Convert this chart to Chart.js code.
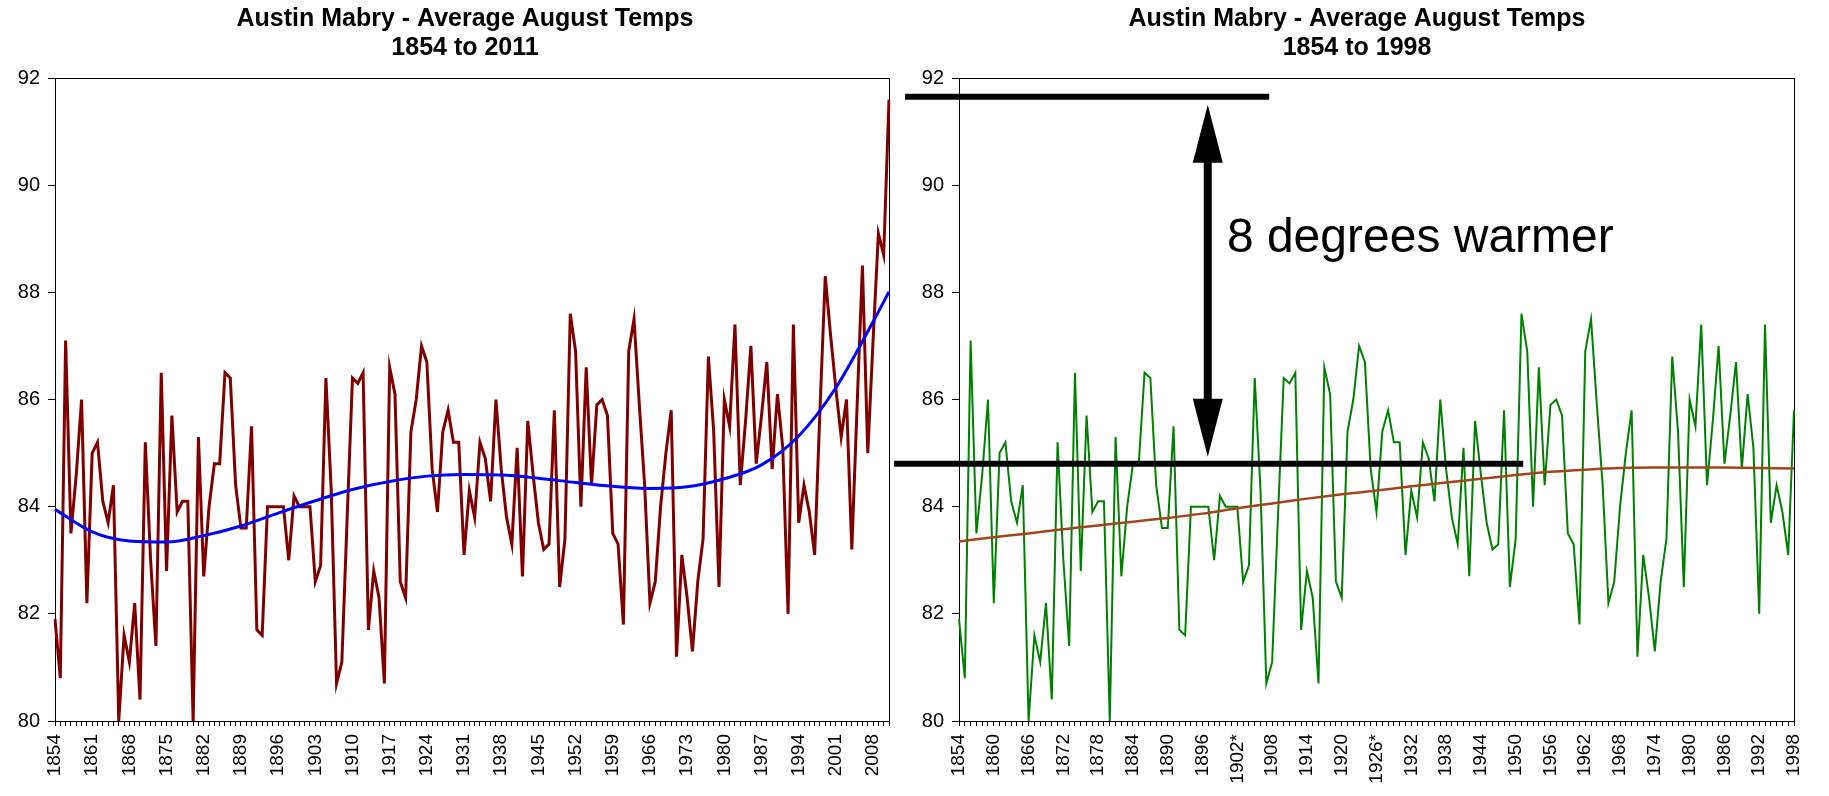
<!DOCTYPE html>
<html lang="en">
<head>
  <meta charset="UTF-8" />
  <title>Austin Mabry - Average August Temps</title>
  <script src="https://cdn.jsdelivr.net/npm/chart.js"></script>
  <style>
    html, body { margin: 0; padding: 0; background: #fff; }
    body { width: 1829px; height: 796px; position: relative; overflow: hidden; }
    canvas { position: absolute; top: 0; }
    #leftChart { left: 0; }
    #rightChart { left: 885px; }
  </style>
</head>
<body>

  <canvas id="leftChart" width="930" height="796"></canvas>
  <canvas id="rightChart" width="944" height="796"></canvas>

  <script>
    // categories
    const years = Array.from({ length: 158 }, (_, i) => String(1854 + i));

    // average August temperature, 1854 - 2011
    const augustTemps = [
      81.9, 80.8, 87.1, 83.5, 84.6, 86.0, 82.2, 85.0, 85.2, 84.1,   // 1854-1863
      83.7, 84.4, 80.0, 81.6, 81.1, 82.2, 80.4, 85.2, 83.0, 81.4,   // 1864-1873
      86.5, 82.8, 85.7, 83.9, 84.1, 84.1, 80.0, 85.3, 82.7, 84.0,   // 1874-1883
      84.8, 84.8, 86.5, 86.4, 84.4, 83.6, 83.6, 85.5, 81.7, 81.6,   // 1884-1893
      84.0, 84.0, 84.0, 84.0, 83.0, 84.2, 84.0, 84.0, 84.0, 82.6,   // 1894-1903
      82.9, 86.4, 84.3, 80.7, 81.1, 83.8, 86.4, 86.3, 86.5, 81.7,   // 1904-1913
      82.8, 82.3, 80.7, 86.6, 86.1, 82.6, 82.3, 85.4, 86.0, 87.0,   // 1914-1923
      86.7, 84.7, 83.9, 85.4, 85.8, 85.2, 85.2, 83.1, 84.3, 83.8,   // 1924-1933
      85.2, 84.9, 84.1, 86.0, 84.7, 83.8, 83.3, 85.1, 82.7, 85.6,   // 1934-1943
      84.6, 83.7, 83.2, 83.3, 85.8, 82.5, 83.4, 87.6, 86.9, 84.0,   // 1944-1953
      86.6, 84.4, 85.9, 86.0, 85.7, 83.5, 83.3, 81.8, 86.9, 87.5,   // 1954-1963
      85.9, 84.4, 82.2, 82.6, 84.0, 85.0, 85.8, 81.2, 83.1, 82.3,   // 1964-1973
      81.3, 82.6, 83.4, 86.8, 85.4, 82.5, 86.0, 85.5, 87.4, 84.4,   // 1974-1983
      85.6, 87.0, 84.8, 85.7, 86.7, 84.7, 86.1, 85.1, 82.0, 87.4,   // 1984-1993
      83.7, 84.4, 83.9, 83.1, 85.8, 88.3, 87.2, 86.2, 85.3, 86.0,   // 1994-2003
      83.2, 85.9, 88.5, 85.0, 87.1, 89.1, 88.7, 91.6                // 2004-2011
    ];

    // trend curve (left chart), read at the labelled years
    const trendYearsLeft = [1854, 1861, 1868, 1875, 1882, 1889, 1896, 1903, 1910, 1917, 1924, 1931,
                            1938, 1945, 1952, 1959, 1966, 1973, 1980, 1987, 1994, 2001, 2008, 2011];
    const trendLeft = [83.95, 83.53, 83.36, 83.34, 83.46, 83.64, 83.88, 84.11, 84.32, 84.47, 84.57, 84.60,
                       84.59, 84.53, 84.45, 84.38, 84.34, 84.37, 84.52, 84.78, 85.32, 86.22, 87.45, 88.01];

    // trend line (right chart)
    const trendYearsRight = [1854, 1860, 1866, 1872, 1878, 1884, 1890, 1896, 1902, 1908, 1914, 1920, 1926,
                             1932, 1938, 1944, 1950, 1956, 1962, 1968, 1974, 1980, 1986, 1992, 1998];
    const trendRight = [83.35, 83.43, 83.50, 83.58, 83.65, 83.72, 83.79, 83.87, 83.97, 84.06, 84.15, 84.23, 84.30,
                        84.38, 84.45, 84.52, 84.59, 84.65, 84.69, 84.72, 84.73, 84.73, 84.73, 84.72, 84.71];

    const rightLastYear = '1998';
    const starredYears = ['1902', '1926'];

    // right chart annotation: levels of the two bars and the arrow ends
    const barLevels = [91.65, 84.8];
    const arrowLevels = [91.5, 84.93];
    const annotationText = '8 degrees warmer';
    const textLevel = 88.75;

    const FONT = "'Liberation Sans', Arial, sans-serif";

    // positions of the overlay (in category index units)
    const overlay = {
      bars: [{ from: -9.3, to: 53.5 }, { from: -11.2, to: 97.3 }],
      arrowAt: 42.9,
      textAt: 46.2
    };

    const frame = {
      id: 'frame',
      beforeDatasetsDraw(chart) {
        const { ctx, chartArea: a } = chart;
        ctx.save();
        ctx.strokeStyle = '#000';
        ctx.lineWidth = 1;
        ctx.strokeRect(a.left + 0.5, a.top + 0.5, a.right - a.left, a.bottom - a.top);
        ctx.restore();
      }
    };

    const warmerNote = {
      id: 'warmerNote',
      afterDatasetsDraw(chart) {
        const { ctx, scales: { x, y } } = chart;
        ctx.save();
        ctx.strokeStyle = '#000';
        ctx.fillStyle = '#000';
        ctx.lineWidth = 6;
        overlay.bars.forEach((b, i) => {
          const py = y.getPixelForValue(barLevels[i]);
          ctx.beginPath();
          ctx.moveTo(x.getPixelForValue(b.from), py);
          ctx.lineTo(x.getPixelForValue(b.to), py);
          ctx.stroke();
        });

        const ax = x.getPixelForValue(overlay.arrowAt);
        const yt = y.getPixelForValue(arrowLevels[0]);
        const yb = y.getPixelForValue(arrowLevels[1]);
        const headLen = 58, headW = 15;
        ctx.lineWidth = 8;
        ctx.beginPath();
        ctx.moveTo(ax, yt + headLen - 2);
        ctx.lineTo(ax, yb - headLen + 2);
        ctx.stroke();
        ctx.beginPath();
        ctx.moveTo(ax, yt);
        ctx.lineTo(ax - headW, yt + headLen);
        ctx.lineTo(ax + headW, yt + headLen);
        ctx.closePath();
        ctx.fill();
        ctx.beginPath();
        ctx.moveTo(ax, yb);
        ctx.lineTo(ax - headW, yb - headLen);
        ctx.lineTo(ax + headW, yb - headLen);
        ctx.closePath();
        ctx.fill();

        ctx.font = '48px ' + FONT;
        ctx.textBaseline = 'alphabetic';
        ctx.textAlign = 'left';
        ctx.fillText(annotationText, x.getPixelForValue(overlay.textAt), y.getPixelForValue(textLevel));
        ctx.restore();
      }
    };

    // yWidth: room left of the plot, sideWidth: room right of the plot
    function makeOptions(title, every, yWidth, sideWidth, labelFor) {
      return {
        responsive: false,
        animation: false,
        layout: { padding: 0 },
        plugins: {
          legend: { display: false },
          tooltip: { enabled: false },
          title: {
            display: true,
            text: title,
            color: '#000',
            font: { family: FONT, size: 25, weight: 'bold', lineHeight: 1.16 },
            padding: { top: 5, bottom: 15 }
          }
        },
        scales: {
          x: {
            type: 'category',
            offset: false,
            grid: { display: true, drawOnChartArea: false, drawTicks: true, tickLength: 5, color: '#000' },
            border: { display: true, color: '#000', width: 1 },
            ticks: {
              autoSkip: false,
              maxRotation: 90,
              minRotation: 90,
              padding: 8,
              color: '#000',
              font: { family: FONT, size: 19 },
              callback: function (v, i) { return i % every === 0 ? labelFor(this.getLabelForValue(v)) : ''; }
            },
            afterFit: (s) => { s.height = 75; }
          },
          y: {
            min: 80,
            max: 92,
            grid: { display: true, drawOnChartArea: false, drawTicks: true, tickLength: 7, color: '#000' },
            border: { display: true, color: '#000', width: 1 },
            ticks: { stepSize: 2, padding: 8, color: '#000', font: { family: FONT, size: 20 } },
            afterFit: (s) => { s.width = yWidth; }
          },
          side: {
            type: 'linear',
            position: 'right',
            grid: { display: false },
            border: { display: false },
            ticks: { display: false },
            afterFit: (s) => { s.width = sideWidth; }
          }
        }
      };
    }

    const toPoints = (ys, vals) => ys.map((yr, i) => ({ x: String(yr), y: vals[i] }));

    // Left chart
    new Chart(document.getElementById('leftChart'), {
      type: 'line',
      data: {
        labels: years,
        datasets: [
          {
            label: 'Trend',
            data: toPoints(trendYearsLeft, trendLeft),
            borderColor: '#0000ff',
            borderWidth: 3,
            pointRadius: 0,
            cubicInterpolationMode: 'monotone',
            order: 0
          },
          {
            label: 'August average',
            data: augustTemps,
            borderColor: '#800000',
            borderWidth: 3,
            pointRadius: 0,
            tension: 0,
            order: 1
          }
        ]
      },
      options: makeOptions(['Austin Mabry - Average August Temps', '1854 to 2011'], 7, 55, 41, (l) => l),
      plugins: [frame]
    });

    // Right chart
    const rightCount = years.indexOf(rightLastYear) + 1;
    new Chart(document.getElementById('rightChart'), {
      type: 'line',
      data: {
        labels: years.slice(0, rightCount),
        datasets: [
          {
            label: 'Trend',
            data: toPoints(trendYearsRight, trendRight),
            borderColor: '#a0461e',
            borderWidth: 2.5,
            pointRadius: 0,
            tension: 0.3,
            order: 0
          },
          {
            label: 'August average',
            data: augustTemps.slice(0, rightCount),
            borderColor: '#008000',
            borderWidth: 2,
            pointRadius: 0,
            tension: 0,
            order: 1
          }
        ]
      },
      options: makeOptions(['Austin Mabry - Average August Temps', '1854 to 1998'], 6, 74, 35,
        (l) => starredYears.includes(l) ? l + '*' : l),
      plugins: [frame, warmerNote]
    });
  </script>

</body>
</html>
